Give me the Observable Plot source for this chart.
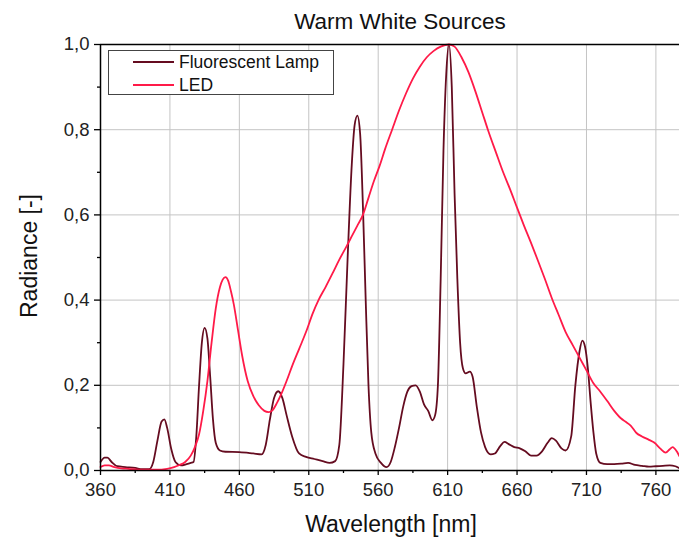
<!DOCTYPE html>
<html>
<head>
<meta charset="utf-8">
<script src="https://cdn.jsdelivr.net/npm/d3@7"></script>
<script src="https://cdn.jsdelivr.net/npm/@observablehq/plot@0.6"></script>
<style>
  html, body { margin: 0; padding: 0; background: #fff; }
  #chart { width: 679px; height: 542px; }
  svg { font-family: "Liberation Sans", Arial, sans-serif; }
</style>
</head>
<body>
<div id="chart"></div>
<script>
const title = "Warm White Sources";
const xLabel = "Wavelength [nm]";
const yLabel = "Radiance [-]";
const seriesNames = ["Fluorescent Lamp", "LED"];
const seriesColors = ["#650c20", "#ff1a48"];

const xMajorTicks = [360, 410, 460, 510, 560, 610, 660, 710, 760];
const xMinorTicks = [385, 435, 485, 535, 585, 635, 685, 735];
const yMajorTicks = [0, 0.2, 0.4, 0.6, 0.8, 1.0];
const yMinorTicks = [0.1, 0.3, 0.5, 0.7, 0.9];

const fluoWl = [360,363,365,368,372,378,385,390,395,398,401,404,406,408,411,414,418,422,425,427,429,431,433,435,437,439,441,443,446,450,460,470,476,479,482,485,488,491,494,498,503,508,514,520,525,529,532,535,538,541,543,545,547,549,551,553,555,558,562,566,569,572,575,578,581,584,587,590,593,596,599,601,603,605,607,609,611,613,615,617,619,621,623,626,628,631,634,637,641,644,648,651,654,658,662,666,670,674,678,682,685,688,692,695,699,702,705,707,709,711,713,715,717,720,725,730,735,740,745,750,755,760,765,770,774,777];
const fluoVal = [0.02,0.03,0.03,0.02,0.01,0.008,0.006,0.003,0.003,0.02,0.07,0.115,0.12,0.1,0.05,0.02,0.012,0.015,0.018,0.02,0.08,0.2,0.3,0.335,0.31,0.22,0.12,0.065,0.047,0.044,0.043,0.04,0.038,0.06,0.12,0.17,0.186,0.17,0.13,0.08,0.04,0.032,0.027,0.022,0.018,0.022,0.06,0.25,0.5,0.72,0.81,0.833,0.79,0.62,0.4,0.2,0.09,0.04,0.018,0.008,0.02,0.055,0.1,0.15,0.185,0.198,0.2,0.185,0.155,0.14,0.118,0.13,0.2,0.45,0.75,0.93,1.0,0.9,0.65,0.45,0.3,0.24,0.228,0.232,0.22,0.15,0.09,0.055,0.038,0.04,0.058,0.067,0.062,0.055,0.052,0.045,0.035,0.035,0.045,0.065,0.076,0.07,0.052,0.047,0.08,0.2,0.28,0.305,0.29,0.24,0.16,0.09,0.04,0.018,0.015,0.015,0.016,0.018,0.013,0.011,0.009,0.01,0.011,0.012,0.01,0.005];

const ledWl = [360,363,366,370,375,380,390,400,408,413,417,421,425,428,431,434,437,440,443,446,448,450,452,454,456,459,462,466,470,474,478,481,484,487,490,494,498,503,508,513,517,522,527,532,537,541,545,549,553,557,561,565,570,575,580,585,590,595,600,605,611,615,620,625,630,635,639,645,650,655,660,665,670,675,680,685,690,695,700,705,710,715,720,725,730,735,738,742,746,750,755,759,763,767,770,772,775,777];
const ledVal = [0.008,0.012,0.012,0.008,0.005,0.004,0.002,0.002,0.004,0.008,0.013,0.02,0.035,0.055,0.085,0.14,0.21,0.3,0.38,0.43,0.448,0.454,0.445,0.42,0.39,0.33,0.27,0.21,0.175,0.153,0.14,0.137,0.142,0.158,0.178,0.21,0.245,0.285,0.325,0.37,0.4,0.43,0.462,0.495,0.525,0.55,0.575,0.6,0.64,0.68,0.715,0.755,0.8,0.845,0.885,0.92,0.948,0.97,0.985,0.995,1.0,0.995,0.97,0.935,0.89,0.84,0.8,0.745,0.7,0.66,0.617,0.575,0.535,0.493,0.45,0.405,0.365,0.325,0.295,0.265,0.235,0.205,0.185,0.163,0.14,0.122,0.115,0.105,0.088,0.08,0.072,0.065,0.052,0.042,0.05,0.055,0.045,0.033];

const rows = [
  ...fluoWl.map((w, i) => ({wl: w, v: fluoVal[i], s: seriesNames[0]})),
  ...ledWl.map((w, i) => ({wl: w, v: ledVal[i], s: seriesNames[1]}))
];

const fmt = d => d.toFixed(1).replace(".", ",");

const plot = Plot.plot({
  width: 679,
  height: 542,
  marginLeft: 100,
  marginRight: 0,
  marginTop: 44,
  marginBottom: 72,
  style: {fontFamily: '"Liberation Sans", Arial, sans-serif', fontSize: "18px", background: "#fff", color: "#000"},
  x: {domain: [360, 777]},
  y: {domain: [0, 1]},
  color: {domain: seriesNames, range: seriesColors},
  marks: [
    Plot.gridX(xMajorTicks.slice(1), {stroke: "#c4c4c4", strokeOpacity: 1, strokeWidth: 1}),
    Plot.gridY(yMajorTicks.slice(1, -1), {stroke: "#c4c4c4", strokeOpacity: 1, strokeWidth: 1}),
    Plot.axisX(xMinorTicks, {tickSize: 3, tickFormat: () => "", label: null, stroke: "#000", strokeWidth: 1.3}),
    Plot.axisX(xMajorTicks, {tickSize: 5, tickPadding: 7, tickFormat: d => String(d), label: null, stroke: "#000", strokeWidth: 1.3, fontSize: 18.5, fill: "#222"}),
    Plot.axisY(yMinorTicks, {tickSize: 3, tickFormat: () => "", label: null, stroke: "#000", strokeWidth: 1.3}),
    Plot.axisY(yMajorTicks, {tickSize: 6, tickPadding: 5, tickFormat: fmt, label: null, stroke: "#000", strokeWidth: 1.3, fontSize: 18.5, fill: "#222"}),
    Plot.line(rows, {x: "wl", y: "v", z: "s", stroke: "s", strokeWidth: 1.8, curve: "monotone-x"}),
    Plot.ruleX([360], {stroke: "#000", strokeWidth: 1.5}),
    Plot.ruleY([0], {stroke: "#000", strokeWidth: 1.5}),
    Plot.ruleY([1], {stroke: "#000", strokeWidth: 1.5})
  ]
});

document.getElementById("chart").appendChild(plot);

const svg = d3.select(plot);
svg.append("text").attr("x", 400).attr("y", 29).attr("text-anchor", "middle")
  .attr("font-size", 22.5).attr("fill", "#111").text(title);
svg.append("text").attr("x", 391).attr("y", 532).attr("text-anchor", "middle")
  .attr("font-size", 23).attr("fill", "#111").text(xLabel);
svg.append("text").attr("transform", "translate(37,256) rotate(-90)").attr("text-anchor", "middle")
  .attr("font-size", 23).attr("fill", "#111").text(yLabel);

const lg = svg.append("g");
lg.append("rect").attr("x", 108.5).attr("y", 50.5).attr("width", 225).attr("height", 44)
  .attr("fill", "#fff").attr("stroke", "#444").attr("stroke-width", 1);
seriesNames.forEach((name, i) => {
  const y = 62 + i * 23;
  lg.append("line").attr("x1", 133).attr("x2", 174).attr("y1", y).attr("y2", y)
    .attr("stroke", seriesColors[i]).attr("stroke-width", 1.8);
  lg.append("text").attr("x", 179).attr("y", y + 6).attr("text-anchor", "start")
    .attr("font-size", 17.5).attr("fill", "#111").text(name);
});
</script>
</body>
</html>
